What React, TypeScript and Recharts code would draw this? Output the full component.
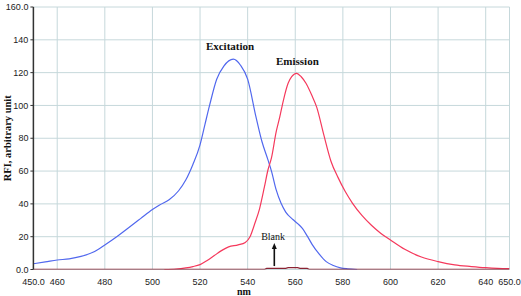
import React from "react";
import { LineChart, Line, XAxis, YAxis, CartesianGrid, ReferenceDot, ReferenceLine, Label } from "recharts";

const xTicks = [450, 460, 480, 500, 520, 540, 560, 580, 600, 620, 640, 650];
const yTicks = [0, 20, 40, 60, 80, 100, 120, 140, 160];

const excitationX = [450, 455, 460, 465, 470, 475, 480, 485, 490, 495, 500, 503, 507, 511, 514, 517, 520, 522, 524, 527, 530, 534, 537, 540, 543.5, 546, 548.5, 550, 552, 554, 556, 559, 561, 563, 565, 567, 570, 573, 576, 579, 582, 586];
const excitationY = [3.5, 4.6, 5.8, 6.5, 8, 10.5, 15, 20, 25.5, 31, 36.5, 39.3, 42.5, 48, 54.5, 64, 76, 88, 100, 116, 124, 128.2, 124.5, 116, 93, 78, 67, 60, 48.5, 40.5, 35, 30.5, 28, 25, 20.5, 15.5, 9.5, 4.8, 2.4, 1, 0.4, 0];

const emissionX = [505, 510, 514, 517, 520, 523, 526, 529, 532, 536, 539, 541, 543, 545, 547, 548.5, 550, 552, 553.5, 555, 557, 558.5, 560.5, 562.5, 564.5, 567, 569, 572, 575, 578, 581, 584, 588, 592, 596, 600, 606, 613, 620, 627, 634, 640, 645, 650];
const emissionY = [0, 0.3, 1, 1.8, 3, 5.5, 8.5, 11.5, 13.8, 15, 16.5, 20, 28, 37, 50, 60.5, 68, 84, 93, 103, 113.5, 117.5, 119.6, 117.5, 113.5, 106, 99, 82, 66, 56, 47.5, 40.5, 33, 27, 22, 18, 12.3, 7.6, 4.8, 2.8, 1.8, 1.1, 0.7, 0.5];

const blankX = [450, 547, 548, 556, 557, 561, 562, 565, 566, 650];
const blankY = [0, 0, 0.7, 0.7, 1.1, 1.1, 0.7, 0.7, 0, 0];

const excitation = excitationX.map((x, i) => ({ x, y: excitationY[i] }));
const emission = emissionX.map((x, i) => ({ x, y: emissionY[i] }));
const blank = blankX.map((x, i) => ({ x, y: blankY[i] }));

const serif = "'Liberation Serif', 'Times New Roman', serif";
const sans = "'Liberation Sans', Arial, sans-serif";

const textLabel = (s: string, bold: boolean, size: number) => (props: any) => {
  const vb = props.viewBox || {};
  return (
    <text x={vb.x} y={vb.y} textAnchor="middle" fontFamily={serif} fontWeight={bold ? "bold" : "normal"} fontSize={size} fill="#111">
      {s}
    </text>
  );
};

const yTitle = (props: any) => {
  const vb = props.viewBox || {};
  const cx = vb.x + 7.5;
  const cy = vb.y + vb.height / 2;
  return (
    <text x={cx} y={cy} transform={`rotate(-90, ${cx}, ${cy})`} textAnchor="middle" dominantBaseline="central" fontFamily={serif} fontWeight="bold" fontSize={10.5} fill="#111">
      RFI, arbitrary unit
    </text>
  );
};

const xTitle = (props: any) => {
  const vb = props.viewBox || {};
  const cx = vb.x + vb.width / 2 - 27.5;
  const by = vb.y + vb.height - 1;
  return (
    <text x={cx} y={by} textAnchor="middle" fontFamily={serif} fontWeight="bold" fontSize={10} fill="#111">
      nm
    </text>
  );
};

const arrowShape = (props: any) => {
  const { x1, y1, x2, y2 } = props;
  const top = Math.min(y1, y2);
  const bottom = Math.max(y1, y2);
  const x = x1;
  return (
    <g>
      <line x1={x} y1={bottom} x2={x} y2={top + 4} stroke="#111" strokeWidth={1.6} />
      <polygon points={`${x},${top} ${x - 2.5},${top + 6} ${x + 2.5},${top + 6}`} fill="#111" />
    </g>
  );
};

const fmtX = (v: number) => (v === 450 || v === 650 ? v.toFixed(1) : String(v));
const fmtY = (v: number) => (v === 0 || v === 160 ? v.toFixed(1) : String(v));

export default function App() {
  return (
    <div style={{ position: "absolute", left: 0, top: 0, width: 521, height: 296, background: "#fff" }}>
      <LineChart width={521} height={296} margin={{ top: 7, right: 11.5, left: 0, bottom: 0 }}>
        <CartesianGrid stroke="#c6d8db" strokeWidth={1} />
        <XAxis
          dataKey="x"
          type="number"
          domain={[450, 650]}
          ticks={xTicks}
          tickFormatter={fmtX}
          axisLine={false}
          tickLine={false}
          tickSize={6}
          tickMargin={3}
          height={26.5}
          interval={0}
          allowDataOverflow
          tick={{ fontFamily: sans, fontSize: 9, fill: "#222" }}
        >
          <Label content={xTitle} />
        </XAxis>
        <YAxis
          type="number"
          domain={[0, 160]}
          ticks={yTicks}
          tickFormatter={fmtY}
          width={33.4}
          axisLine={{ stroke: "#333", strokeWidth: 1.5 }}
          tickLine={{ stroke: "#333" }}
          tickSize={3}
          tickMargin={2}
          interval={0}
          allowDataOverflow
          tick={{ fontFamily: sans, fontSize: 9, fill: "#222" }}
        >
          <Label content={yTitle} />
        </YAxis>
        <Line data={excitation} dataKey="y" type="monotone" stroke="#5168ee" strokeWidth={1.2} dot={false} isAnimationActive={false} />
        <Line data={emission} dataKey="y" type="monotone" stroke="#f5395c" strokeWidth={1.2} dot={false} isAnimationActive={false} />
        <Line data={blank} dataKey="y" type="linear" stroke="#8a2232" strokeWidth={1.3} dot={false} isAnimationActive={false} />
        <ReferenceDot x={532.6} y={133.8} r={0} fill="none" stroke="none" label={textLabel("Excitation", true, 11)} />
        <ReferenceDot x={560.9} y={124.6} r={0} fill="none" stroke="none" label={textLabel("Emission", true, 11)} />
        <ReferenceDot x={550.7} y={18} r={0} fill="none" stroke="none" label={textLabel("Blank", false, 10)} />
        <ReferenceLine segment={[{ x: 551.2, y: 2.1 }, { x: 551.2, y: 16.2 }]} shape={arrowShape} />
      </LineChart>
    </div>
  );
}
